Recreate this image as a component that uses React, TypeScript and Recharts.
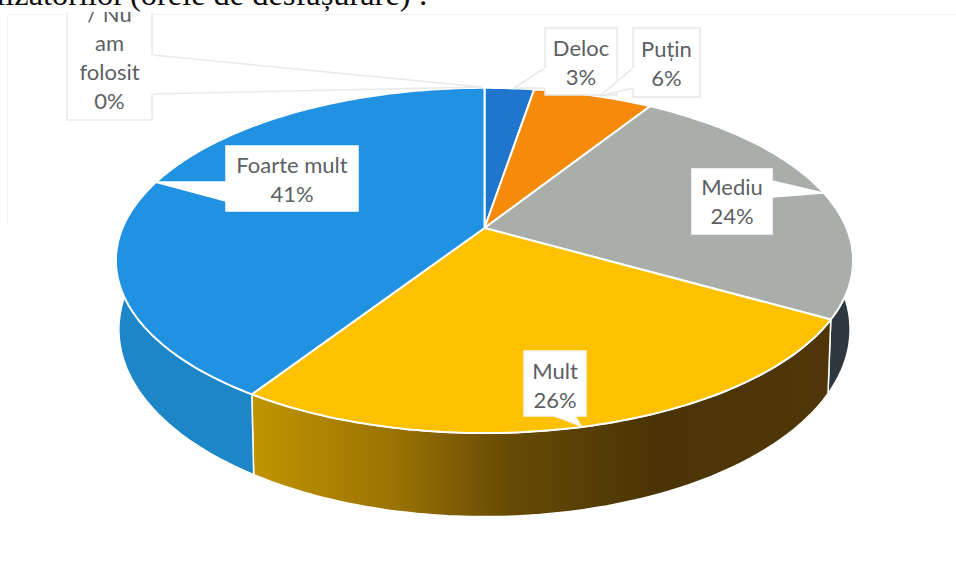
import React from 'react';
import { PieChart, Pie } from 'recharts';

const categories = ['Deloc', 'Puțin', 'Mediu', 'Mult', 'Foarte mult', '/ Nu am folosit'];
// unrounded shares read from the slice edges, the labels show them rounded
const shares = [2.6, 6.3, 24.4, 25.8, 40.9, 0];
const topColors = ['#1f76cc', '#f58a0b', '#a9aeaa', '#fdc100', '#2191e2', '#2191e2'];
const wallColors = ['#174f8c', '#a85c05', '#2e3840', 'url(#wallMult)', '#1c86c6', '#1c86c6'];

// label boxes, same order as categories
const labelBoxes = [
  { x: 545, y: 28, w: 72, h: 67, edge: '#e6e8e8', dy: 0, call: '545,68 514,88 545,88', lines: ['Deloc'] },
  { x: 633, y: 28, w: 67, h: 69, edge: '#e6e8e8', dy: -1, call: '633,68 600,96 633,88', lines: ['Puțin'] },
  { x: 692, y: 169, w: 80, h: 65, edge: '#fff', dy: 0, call: '772,181 823,193 772,197', lines: ['Mediu'] },
  { x: 524, y: 351, w: 62, h: 65, edge: '#f4f6f8', dy: 2, call: '555,416 581,426 575,416', lines: ['Mult'] },
  { x: 226, y: 146, w: 132, h: 65, edge: '#fff', dy: 1, call: '226,182 155,182 226,201', lines: ['Foarte mult'] },
  { x: 67, y: 4, w: 85, h: 116, edge: '#e8e9e9', dy: -1, call: '152,55 482,87 152,94', lines: ['/ Nu', 'am', 'folosit'] },
];

const tableData = categories.map((name, i) => ({
  name,
  value: shares[i],
  topFill: topColors[i],
  wallFill: wallColors[i],
}));

// perspective used to lay the flat pie on its side
const TILT = 0.188;
const SQUASH = 0.46;
const DEPTH_SX = 365 / 368;
const DEPTH_SY = 187 / 172.5;
const RIM_CX = 483.5;
const RIM_CY = 260;
const FLOOR_CY = 329;

function project(cx: number, cy: number, r: number, angle: number) {
  const th = ((90 - angle) * Math.PI) / 180;
  const u = Math.sin(th);
  const v = Math.cos(th);
  const d = 1 + TILT * v;
  return { x: cx + (r * u) / d, y: cy - (r * SQUASH * v) / d };
}

function rimPoints(p: any) {
  const pts = [];
  const steps = Math.max(2, Math.ceil(Math.abs(p.endAngle - p.startAngle)));
  for (let i = 0; i <= steps; i++) {
    const a = p.startAngle + ((p.endAngle - p.startAngle) * i) / steps;
    pts.push(project(p.cx, p.cy, p.outerRadius, a));
  }
  return pts;
}

const toPath = (pts: { x: number; y: number }[]) =>
  pts.map((q, i) => `${i ? 'L' : 'M'}${q.x.toFixed(1)},${q.y.toFixed(1)}`).join(' ') + ' Z';

const TopSlice = (p: any) => (
  <path
    d={toPath([{ x: p.cx, y: p.cy }, ...rimPoints(p)])}
    fill={p.topFill}
    stroke="#fff"
    strokeWidth={p.value === 0 ? 0 : 2}
    strokeLinejoin="round"
  />
);

const WallSlice = (p: any) => {
  if (p.value === 0) return <g />;
  const rim = rimPoints(p);
  const floor = rim
    .map((q) => ({
      x: RIM_CX + (q.x - RIM_CX) * DEPTH_SX,
      y: FLOOR_CY + (q.y - RIM_CY) * DEPTH_SY,
    }))
    .reverse();
  return <path d={toPath([...rim, ...floor])} fill={p.wallFill} stroke="#fff" strokeWidth={1.5} />;
};

const SliceLabel = (p: any) => {
  const b = labelBoxes[p.index];
  const lines = [...b.lines, `${Math.round(p.value)}%`];
  const mid = b.x + b.w / 2;
  const lineH = 29;
  const first = b.y + b.h + 3 + b.dy - 13 - (lines.length - 1) * lineH;
  const [a, , c] = b.call.split(' ');
  return (
    <g>
      <polygon points={b.call} fill="#fff" stroke={b.edge} strokeWidth={1.5} strokeLinejoin="round" />
      <rect x={b.x} y={b.y} width={b.w} height={b.h} fill="#fff" stroke={b.edge} strokeWidth={1.5} />
      <polyline points={a + ' ' + c} stroke="#fff" strokeWidth={3} fill="none" />
      {lines.map((t, i) => (
        <text
          key={i}
          x={mid}
          y={first + i * lineH}
          textAnchor="middle"
          fontFamily="Lato"
          fontSize={22}
          fill="#5c5f63"
        >
          {t}
        </text>
      ))}
    </g>
  );
};

const titleStyle: React.CSSProperties = {
  position: 'absolute',
  top: -24,
  whiteSpace: 'nowrap',
  fontFamily: '"Liberation Serif"',
  fontSize: 32.4,
  color: '#0c0c0c',
};

export default function App() {
  return (
    <div style={{ position: 'absolute', left: 0, top: 0, width: 956, height: 584, background: '#fff', overflow: 'hidden' }}>
      {/* faint scan edge of the pasted picture */}
      <div style={{ position: 'absolute', left: 8, top: 14, width: 948, height: 1, background: '#f3f3f3' }} />
      <div style={{ position: 'absolute', left: 7, top: 14, width: 1, height: 210, background: '#f5f5f5' }} />
      <PieChart width={956} height={584} margin={{ top: 0, right: 0, bottom: 0, left: 0 }}>
        <defs>
          <linearGradient id="wallMult" gradientUnits="userSpaceOnUse" x1="250" y1="0" x2="830" y2="0">
            <stop offset="0" stopColor="#c29500" />
            <stop offset="0.25" stopColor="#9a7203" />
            <stop offset="0.45" stopColor="#664a05" />
            <stop offset="0.7" stopColor="#4a3405" />
            <stop offset="1" stopColor="#503608" />
          </linearGradient>
        </defs>
        <Pie
          data={tableData}
          dataKey="value"
          nameKey="name"
          cx={484.5}
          cy={228}
          outerRadius={362}
          startAngle={90}
          endAngle={-270}
          stroke="none"
          shape={WallSlice}
          isAnimationActive={false}
        />
        <Pie
          data={tableData}
          dataKey="value"
          nameKey="name"
          cx={484.5}
          cy={228}
          outerRadius={362}
          startAngle={90}
          endAngle={-270}
          shape={TopSlice}
          label={SliceLabel}
          labelLine={false}
          isAnimationActive={false}
        />
      </PieChart>
      <div style={{ position: 'absolute', left: 0, top: 0, width: 956, height: 12, background: '#fff', overflow: 'hidden' }}>
        <div style={{ ...titleStyle, right: 956 - 124 }}>lizatorilor</div>
        <div style={{ ...titleStyle, left: 130 }}>(orele de desfășurare) :</div>
      </div>
    </div>
  );
}
